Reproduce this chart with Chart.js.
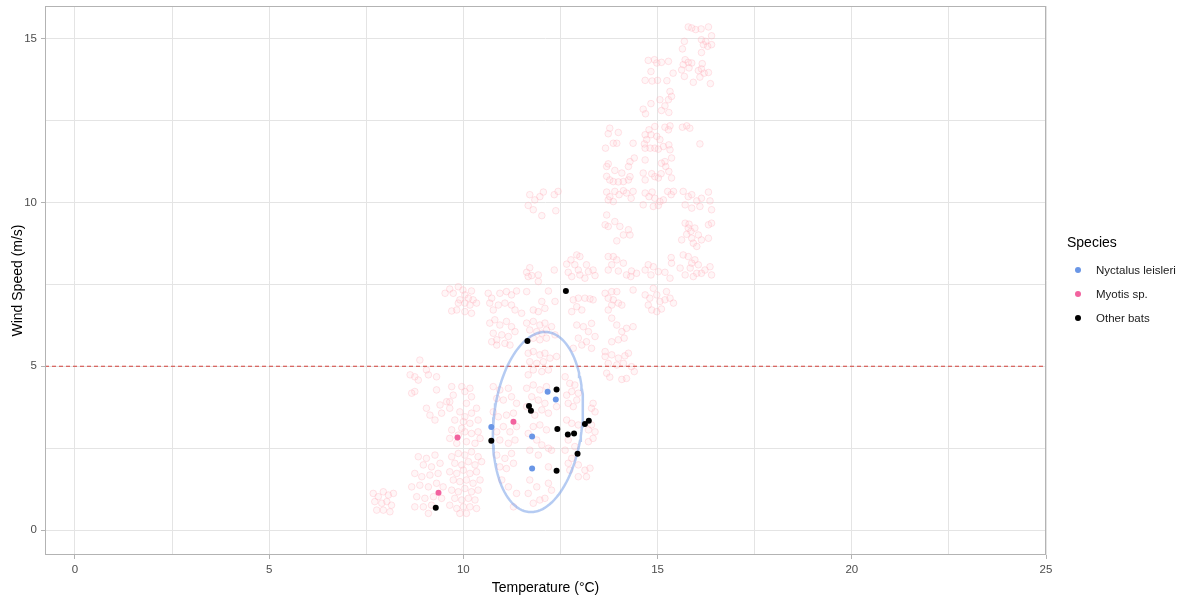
<!DOCTYPE html>
<html>
<head>
<meta charset="utf-8">
<script src="https://cdn.jsdelivr.net/npm/chart.js@4.4.1/dist/chart.umd.min.js"></script>
<style>
  html, body { margin: 0; padding: 0; background: #ffffff; }
  #wrap { position: relative; width: 1188px; height: 602px; }
  #c { position: absolute; left: 0; top: 0; }
  #legend { position: absolute; left: 1067px; top: 232px; font-family: "Liberation Sans", Arial, sans-serif; color: #000; }
  #legend .title { font-size: 14px; height: 20px; line-height: 20px; margin-bottom: 6px; }
  #legend .item { height: 24px; line-height: 24px; font-size: 11.5px; position: relative; padding-left: 29px; color: #1a1a1a; }
  #legend .dot { position: absolute; left: 8px; top: 9px; width: 6px; height: 6px; border-radius: 50%; }
</style>
</head>
<body>
<div id="wrap">
  <canvas id="c" width="1188" height="602"></canvas>
  <div id="legend"></div>
</div>
<script>
// ---------------- data ----------------
const seriesNames = ["Nyctalus leisleri", "Myotis sp.", "Other bats"];
const seriesColors = ["#6A96E6", "#F2639F", "#000000"];

const nyctalusTemp = [12.17, 12.38, 10.72, 11.77, 11.77];
const nyctalusWind = [4.22, 3.99, 3.15, 2.86, 1.88];

const myotisTemp = [11.29, 9.85, 9.36];
const myotisWind = [3.31, 2.83, 1.14];

const otherBatsTemp = [11.65, 12.40, 11.69, 11.74, 10.72, 12.42, 12.69, 12.85, 13.13, 13.23, 12.94, 12.40, 9.29, 12.64];
const otherBatsWind = [5.77, 4.29, 3.79, 3.64, 2.73, 3.09, 2.92, 2.95, 3.24, 3.34, 2.33, 1.81, 0.68, 7.30];

// all recorded night conditions (temperature, wind speed), faint background
const nightConditions = [
 [15.79,15.36],[15.88,15.33],[15.98,15.28],[16.12,15.30],[16.31,15.36],[16.39,15.09],[16.13,14.97],[16.24,14.92],[16.18,14.82],[16.29,14.77],
 [16.39,14.82],[15.69,14.92],[15.64,14.69],[16.13,14.58],[15.71,14.36],[15.79,14.28],[15.66,14.21],[15.88,14.26],[15.62,14.05],[16.05,14.03],
 [16.13,14.08],[16.20,13.95],[16.31,13.97],[16.09,13.83],[15.92,13.67],[16.36,13.63],[15.69,13.85],[15.81,14.11],[16.15,14.24],
 [14.76,14.34],[14.92,14.36],[14.98,14.26],[15.10,14.28],[15.28,14.31],[14.83,14.00],[14.68,13.73],[14.86,13.71],[15.00,13.73],[15.24,13.72],[15.40,13.95],
 [15.32,13.39],[15.36,13.24],[15.28,13.14],[15.06,13.14],[15.19,12.95],[15.10,12.81],[15.29,12.75],[14.63,12.85],[14.69,12.71],[14.83,13.02],
 [15.19,12.30],[15.32,12.34],[15.28,12.22],[14.93,12.32],[14.78,12.22],[14.68,12.07],[14.72,11.92],[14.83,12.07],[14.66,11.79],[14.98,12.02],
 [15.06,11.92],[14.93,11.66],[14.81,11.66],[15.02,11.63],[14.68,11.66],[15.15,11.71],[15.29,11.76],[15.32,11.61],[15.64,12.30],[15.75,12.34],
 [15.83,12.27],[16.09,11.79],[13.77,12.27],[13.73,12.10],[13.99,12.14],[13.86,11.81],[13.95,11.81],[13.66,11.66],[14.37,11.81],
 [13.73,11.18],[13.69,11.10],[13.90,10.98],[14.08,10.90],[14.25,11.10],[14.40,11.36],[14.29,11.25],[14.68,11.30],[14.63,10.90],[14.85,10.88],
 [14.93,10.79],[15.10,11.20],[15.21,11.10],[15.19,11.25],[15.36,11.36],[15.29,10.95],[15.36,10.75],[13.69,10.80],[13.77,10.69],[13.86,10.64],
 [13.99,10.63],[14.12,10.64],[14.25,10.69],[14.29,10.79],[14.68,10.69],[15.02,10.75],[15.09,10.88],
 [13.69,10.32],[13.77,10.18],[13.90,10.34],[14.01,10.24],[14.12,10.36],[14.20,10.29],[14.32,10.13],[14.37,10.34],[13.73,10.08],[13.86,10.03],
 [14.68,10.29],[14.78,10.18],[14.86,10.32],[14.93,10.13],[15.06,10.03],[15.15,10.08],[15.26,10.34],[15.35,10.24],[15.41,10.34],[14.63,9.93],
 [14.89,9.88],[15.02,9.91],[15.66,10.34],[15.79,10.18],[15.88,10.24],[16.01,10.05],[16.13,10.13],[16.31,10.32],[16.35,10.05],[15.71,9.93],
 [15.88,9.83],[16.09,9.88],[16.39,9.78],[12.34,10.24],[12.44,10.34],[12.38,9.75],
 [13.69,9.62],[13.65,9.32],[13.73,9.27],[13.90,9.42],[14.03,9.27],[14.25,9.17],[14.29,9.01],[14.12,9.01],[13.95,8.83],[15.71,9.37],
 [15.81,9.34],[15.79,9.22],[15.86,9.12],[15.75,9.03],[15.88,8.91],[15.92,8.76],[16.01,8.66],[16.05,9.01],[16.13,8.86],[16.31,9.32],
 [16.39,9.37],[16.31,8.91],[15.62,8.86],[15.96,9.22],
 [12.66,8.12],[12.77,8.25],[12.92,8.40],[13.00,8.35],[12.87,8.10],[12.96,7.94],[12.70,7.87],[12.79,7.74],[13.00,7.79],[13.17,8.10],
 [13.22,7.89],[13.34,7.94],[13.39,7.77],[13.13,7.69],[13.73,8.35],[13.86,8.35],[13.95,8.25],[13.82,8.10],[13.73,7.94],[13.99,7.91],
 [14.12,8.15],[14.20,7.79],[14.33,7.91],[14.31,7.74],[14.46,7.84],[14.68,7.94],[14.76,8.10],[14.83,7.79],[14.89,8.04],[15.02,7.89],
 [15.19,7.87],[15.35,8.32],[15.36,8.15],[15.32,7.69],[15.66,8.40],[15.79,8.35],[15.88,8.15],[15.84,8.00],[15.96,8.25],[16.05,8.10],
 [16.13,7.84],[16.22,7.94],[16.35,8.04],[16.39,7.79],[16.01,7.84],[15.92,7.74],[15.71,7.79],[15.58,8.00],[12.34,7.94],
 [12.19,7.30],[12.36,6.98],[12.83,7.03],[12.96,7.08],[13.13,7.08],[13.26,7.06],[13.34,7.03],[12.92,6.82],[12.79,6.67],[13.05,6.72],
 [13.65,7.23],[13.82,7.28],[13.95,7.28],[13.73,7.08],[13.86,7.03],[13.99,6.93],[13.73,6.72],[13.82,6.87],[14.08,6.87],[14.37,7.33],
 [14.68,7.18],[14.80,7.08],[14.89,7.38],[14.98,7.18],[15.06,6.98],[14.76,6.87],[14.85,6.72],[14.98,6.67],[15.10,6.75],[15.19,7.03],
 [15.32,7.08],[15.41,6.93],[15.23,7.28],
 [12.92,6.26],[13.09,6.21],[13.30,6.31],[13.22,6.06],[13.39,5.91],[12.96,5.86],[13.05,5.65],[13.17,5.75],[13.30,5.55],[12.83,5.55],
 [13.82,6.47],[13.95,6.26],[14.08,6.06],[14.20,6.16],[14.37,6.21],[13.99,5.81],[13.82,5.75],[14.14,5.86],[13.65,5.45],
 [13.65,5.30],[13.82,5.35],[13.99,5.25],[14.16,5.32],[14.25,5.40],[13.73,5.09],[13.95,5.04],[14.12,5.09],[14.33,4.99],[14.40,4.84],
 [13.69,4.79],[13.77,4.67],[14.08,4.60],[14.20,4.63],[12.62,4.68],[12.74,4.48],[12.87,4.43],[12.79,4.23],[12.96,4.18],[12.66,4.12],
 [12.92,3.97],[12.70,3.87],[12.83,3.77],[13.34,3.87],[13.30,3.72],[13.39,3.61],[12.66,3.36],[12.79,3.26],[12.96,3.21],[13.30,3.21],
 [13.22,3.06],[13.39,3.00],[13.34,2.80],[13.22,2.70],[12.70,2.75],[12.87,2.55],[12.62,2.44],[12.79,2.19],[12.70,2.04],[12.96,1.99],
 [13.13,1.83],[13.26,1.89],[13.17,1.63],[12.74,1.83],[12.96,1.63],[12.27,2.44],[12.19,1.93],[12.19,1.43],[12.27,1.22],[12.10,0.97],
 [11.63,6.32],[11.80,6.37],[11.97,6.26],[12.10,6.32],[11.71,6.11],[11.89,6.06],[12.02,6.01],[12.14,6.11],[12.27,6.21],[11.80,5.86],
 [11.97,5.81],[12.14,5.86],[12.36,5.96],[11.67,5.40],[11.80,5.45],[11.97,5.35],[12.10,5.40],[11.71,5.14],[11.89,5.09],[12.06,5.14],
 [12.23,5.25],[12.40,5.30],[11.80,4.89],[12.02,4.84],[11.67,4.74],[12.19,4.89],[11.63,4.33],[11.80,4.43],[11.97,4.28],[12.14,4.38],
 [11.76,4.07],[11.93,3.97],[12.10,3.87],[11.63,3.77],[12.02,3.67],[12.19,3.57],[11.84,3.51],[12.40,3.77],[11.80,3.16],[11.97,3.21],
 [12.14,3.06],[11.67,2.95],[11.89,2.75],[12.02,2.60],[12.19,2.50],[11.71,2.44],[11.93,2.29],[11.71,1.53],[11.89,1.32],[11.67,1.12],
 [11.97,0.92],[11.80,0.82],
 [10.68,6.32],[10.81,6.42],[10.94,6.26],[11.11,6.37],[11.24,6.21],[10.77,6.01],[10.99,5.96],[11.16,5.91],[11.33,6.06],[10.86,5.81],
 [11.07,5.70],[10.73,5.75],[10.86,5.65],[11.20,5.65],[10.77,4.38],[10.94,4.28],[11.16,4.33],[10.86,4.02],[11.03,3.97],[11.24,4.07],
 [11.37,3.87],[10.77,3.61],[10.90,3.46],[11.11,3.51],[11.29,3.57],[11.03,3.16],[11.20,3.00],[11.37,3.16],[10.86,3.00],[10.94,2.75],
 [11.16,2.65],[11.33,2.75],[10.86,2.29],[11.07,2.19],[11.24,2.34],[10.94,1.93],[11.11,1.88],[11.29,2.04],[10.99,1.53],[11.16,1.32],
 [11.37,1.12],[11.29,0.71],
 [11.71,10.24],[11.84,10.08],[11.97,10.18],[12.06,10.32],[11.67,9.91],[11.80,9.78],[12.02,9.60],
 [11.63,7.87],[11.71,8.01],[11.76,7.77],[11.93,7.79],[11.67,7.74],[11.93,7.59],
 [9.65,7.36],[9.74,7.23],[9.87,7.43],[9.99,7.33],[10.04,7.18],[10.13,7.08],[10.21,7.30],[9.91,7.03],[10.04,6.93],[10.17,6.87],
 [10.34,6.93],[10.25,7.03],[9.70,6.69],[9.83,6.72],[10.04,6.67],[10.21,6.62],[9.87,6.93],[9.53,7.23],
 [10.64,7.23],[10.73,7.08],[10.68,6.93],[10.77,6.72],[10.94,7.23],[11.11,7.28],[11.24,7.18],[11.37,7.30],[11.63,7.28],[11.07,6.93],
 [11.24,6.87],[11.33,6.72],[11.50,6.62],[10.90,6.87],[11.80,6.72],[11.93,6.67],[12.02,6.98],[12.10,6.77],
 [8.88,5.19],[8.63,4.74],[8.75,4.68],[8.84,4.58],[8.67,4.18],[8.75,4.23],[9.05,4.89],[9.10,4.74],[9.31,4.68],[9.31,4.28],
 [9.05,3.72],[9.14,3.51],[9.40,3.82],[9.57,3.92],[9.65,3.72],[9.27,3.36],[9.44,3.57],
 [9.70,4.38],[9.74,4.12],[9.65,3.92],[9.96,4.38],[10.04,4.23],[10.17,4.33],[10.21,4.07],[10.08,3.87],[9.91,3.61],[10.04,3.46],
 [10.21,3.57],[10.34,3.72],[9.78,3.36],[10.00,3.31],[10.17,3.26],[10.38,3.36],[9.70,3.06],[9.87,2.90],[10.04,3.00],[10.21,2.95],
 [10.38,3.00],[9.83,2.65],[10.08,2.70],[10.30,2.65],[9.65,2.80],[9.96,3.11],[10.43,2.80],
 [9.70,2.24],[9.87,2.34],[10.04,2.29],[10.21,2.39],[10.38,2.24],[9.78,2.04],[9.96,1.99],[10.13,2.09],[10.30,1.99],[10.47,2.09],
 [9.65,1.78],[9.83,1.73],[10.00,1.83],[10.17,1.73],[10.34,1.78],[9.74,1.53],[9.91,1.48],[10.08,1.53],[10.25,1.43],[10.43,1.53],
 [9.70,1.22],[9.87,1.17],[10.04,1.27],[10.21,1.17],[10.38,1.22],[9.78,0.97],[9.96,0.92],[10.13,0.97],[10.30,0.92],[9.65,0.76],
 [9.83,0.66],[10.00,0.71],[10.17,0.71],[10.34,0.66],[9.91,0.51],[10.08,0.51],
 [8.84,2.24],[9.05,2.19],[9.27,2.29],[8.97,1.99],[9.18,1.93],[9.40,2.04],[8.75,1.73],[8.93,1.63],[9.14,1.68],[9.35,1.73],
 [8.67,1.32],[8.88,1.37],[9.10,1.32],[9.31,1.43],[9.48,1.32],[8.80,1.02],[9.01,0.97],[9.23,1.02],[9.44,0.97],[8.75,0.71],
 [8.97,0.71],[9.18,0.76],[9.10,0.51],
 [7.68,1.12],[7.81,1.02],[7.94,1.17],[8.07,1.07],[8.20,1.12],[7.72,0.87],[7.90,0.82],[8.03,0.87],[8.15,0.76],[7.77,0.61],
 [7.94,0.61],[8.11,0.56]
];

const windThreshold = 5;               // dashed reference line (m/s)
const xLimits = [-0.77, 25.0];
const yLimits = [-0.76, 16.0];
const xTickValues = [0, 5, 10, 15, 20, 25];
const yTickValues = [0, 5, 10, 15];

// confidence ellipse of the bat detections (centre and conjugate half-axes, data units)
const ellipseCentre = [11.92, 3.30];
const ellipseHalfAxisA = [1.146, 0.0];
const ellipseHalfAxisB = [0.180, 2.750];
const ellipseSteps = 120;

// ---------------- build ----------------
function pairs(xs, ys) { return xs.map((x, i) => ({ x: x, y: ys[i] })); }
const ellipsePts = [];
for (let i = 0; i <= ellipseSteps; i++) {
  const t = 2 * Math.PI * i / ellipseSteps;
  ellipsePts.push({
    x: ellipseCentre[0] + Math.cos(t) * ellipseHalfAxisA[0] + Math.sin(t) * ellipseHalfAxisB[0],
    y: ellipseCentre[1] + Math.cos(t) * ellipseHalfAxisA[1] + Math.sin(t) * ellipseHalfAxisB[1]
  });
}

const FONT = '"Liberation Sans", Arial, sans-serif';

const panelBorder = {
  id: 'panelBorder',
  afterDraw(chart) {
    const a = chart.chartArea, c = chart.ctx;
    c.save();
    c.strokeStyle = '#B3B3B3';
    c.lineWidth = 1;
    c.strokeRect(Math.round(a.left) + 0.5, Math.round(a.top) + 0.5, Math.round(a.right - a.left) - 1, Math.round(a.bottom - a.top) - 1);
    c.restore();
  }
};

const isMajor = (v, list) => list.some(t => Math.abs(t - v) < 1e-6);

new Chart(document.getElementById('c'), {
  type: 'scatter',
  data: {
    datasets: [
      { label: seriesNames[0], data: pairs(nyctalusTemp, nyctalusWind), backgroundColor: seriesColors[0], borderColor: seriesColors[0], pointRadius: 3, borderWidth: 0, order: 2 },
      { label: seriesNames[1], data: pairs(myotisTemp, myotisWind), backgroundColor: seriesColors[1], borderColor: seriesColors[1], pointRadius: 3, borderWidth: 0, order: 1 },
      { label: seriesNames[2], data: pairs(otherBatsTemp, otherBatsWind), backgroundColor: seriesColors[2], borderColor: seriesColors[2], pointRadius: 3, borderWidth: 0, order: 0 },
      { label: 'ellipse', type: 'line', data: ellipsePts, borderColor: 'rgba(120,160,232,0.55)', borderWidth: 2.5, pointRadius: 0, tension: 0, fill: false, order: 3 },
      { label: 'threshold', type: 'line', data: [{ x: xLimits[0], y: windThreshold }, { x: xLimits[1], y: windThreshold }], borderColor: '#D2403A', borderWidth: 1.1, borderDash: [4, 3], pointRadius: 0, fill: false, order: 4 },
      { label: 'conditions', data: nightConditions.map(p => ({ x: p[0], y: p[1] })), backgroundColor: 'rgba(255,182,193,0.13)', borderColor: 'rgba(255,175,188,0.34)', borderWidth: 1, pointRadius: 3.3, order: 5 }
    ]
  },
  options: {
    responsive: false,
    animation: false,
    events: [],
    layout: { padding: { left: 0, right: 142, top: 6, bottom: 0 } },
    plugins: { legend: { display: false }, tooltip: { enabled: false } },
    scales: {
      x: {
        type: 'linear', min: xLimits[0], max: xLimits[1],
        afterFit: s => { s.height = 47; s.paddingLeft = 0; s.paddingRight = 0; },
        border: { display: false },
        grid: { color: '#E4E4E4', lineWidth: 1, tickLength: 4, tickColor: ctx => (ctx.tick && isMajor(ctx.tick.value, xTickValues)) ? '#B3B3B3' : 'rgba(0,0,0,0)' },
        ticks: { stepSize: 2.5, includeBounds: false, autoSkip: false, maxRotation: 0, padding: 4, color: '#4D4D4D', font: { family: FONT, size: 11.5 },
                 callback: v => isMajor(v, xTickValues) ? String(v) : '' },
        title: { display: true, text: 'Temperature (°C)', color: '#000', font: { family: FONT, size: 14 }, padding: { top: 0, bottom: 5 } }
      },
      y: {
        type: 'linear', min: yLimits[0], max: yLimits[1],
        afterFit: s => { s.width = 45; s.paddingTop = 0; s.paddingBottom = 0; },
        border: { display: false },
        grid: { color: '#E4E4E4', lineWidth: 1, tickLength: 4, tickColor: ctx => (ctx.tick && isMajor(ctx.tick.value, yTickValues)) ? '#B3B3B3' : 'rgba(0,0,0,0)' },
        ticks: { stepSize: 2.5, includeBounds: false, autoSkip: false, padding: 4, color: '#4D4D4D', font: { family: FONT, size: 11.5 },
                 callback: v => isMajor(v, yTickValues) ? String(v) : '' },
        title: { display: true, text: 'Wind Speed (m/s)', color: '#000', font: { family: FONT, size: 14 }, padding: { top: 10, bottom: 0 } }
      }
    }
  },
  plugins: [panelBorder]
});

// legend (HTML, real text)
const lg = document.getElementById('legend');
const t = document.createElement('div'); t.className = 'title'; t.textContent = 'Species'; lg.appendChild(t);
seriesNames.forEach((n, i) => {
  const it = document.createElement('div'); it.className = 'item';
  const d = document.createElement('span'); d.className = 'dot'; d.style.background = seriesColors[i];
  it.appendChild(d); it.appendChild(document.createTextNode(n)); lg.appendChild(it);
});
</script>
</body>
</html>
